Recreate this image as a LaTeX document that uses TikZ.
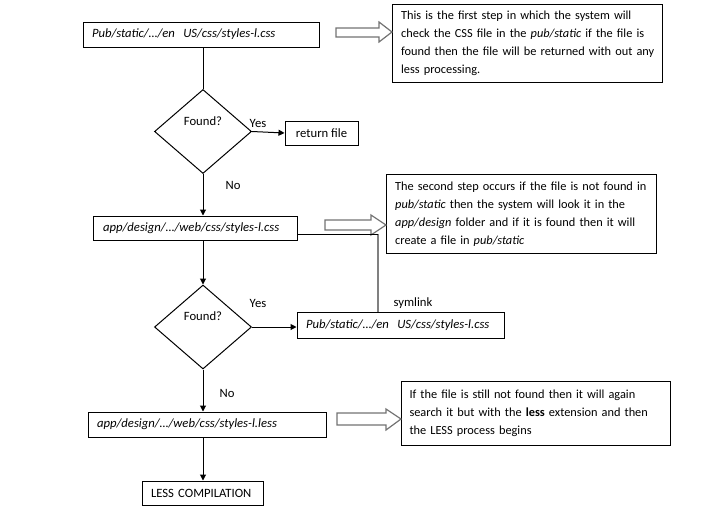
\documentclass[tikz,border=0pt]{standalone}
\usepackage{fontspec}
\setmainfont{Carlito}
\usetikzlibrary{shapes.geometric,arrows.meta}
\begin{document}
\begin{tikzpicture}[x=0.75pt,y=-0.75pt,
  font=\fontsize{9.5}{13.4}\selectfont,
  line width=0.75pt,
  filebox/.style={draw, rectangle, inner xsep=6.75pt, inner ysep=0pt, align=left},
  notebox/.style={draw, rectangle, inner xsep=6.5pt, inner ysep=0pt, align=left, anchor=north west, font=\fontsize{9.25}{13.4}\selectfont},
  decision/.style={draw, diamond, inner sep=0pt, minimum width=72.75pt, minimum height=63pt},
  flow/.style={-{Triangle[length=4.5pt,width=4.5pt]}},
  blockarrow/.style={draw=black!55, line width=0.9pt, fill=white},
  lbl/.style={inner sep=0pt}]
\useasboundingbox (0,0) rectangle (710,518);

% file boxes
\node[filebox, text width=163.5pt, minimum height=18.75pt] (b1) at (201,34.5) {\mbox{\itshape Pub/static/…/en~~US/css/styles-l.css}};
\node[decision, label={[lbl,yshift=7.5pt]center:Found?}] (d1) at (203,131.5) {};
\node[draw, rectangle, minimum width=54.75pt, minimum height=18pt, inner sep=0pt] (ret) at (321.5,133) {return file};
\node[filebox, text width=138pt, minimum height=18pt, inner xsep=7.5pt] (b2) at (195,228) {\mbox{\itshape app/design/…/web/css/styles-l.css}};
\node[decision, label={[lbl,yshift=8pt]center:Found?}] (d2) at (203,327) {};
\node[filebox, text width=141.75pt, minimum height=19.5pt] (sym) at (400.5,325) {\mbox{\itshape Pub/static/…/en~~US/css/styles-l.css}};
\node[filebox, text width=165pt, minimum height=18.75pt] (b3) at (207,424.5) {\mbox{\itshape app/design/…/web/css/styles-l.less}};
\node[filebox, text width=77.25pt, minimum height=18pt] (less) at (202.5,493) {\mbox{LESS COMPILATION}};

% notes
\node[notebox, text width=189.5pt, minimum height=58.5pt] (n1) at (392,4) {\mbox{This is the first step in which the system will}\\
\mbox{check the CSS file in the \textit{pub/static} if the file is}\\
\mbox{found then the file will be returned with out any}\\
\mbox{less processing.}};
\node[notebox, text width=189.5pt, minimum height=59.25pt] (n2) at (386,174) {\mbox{The second step occurs if the file is not found in}\\
\mbox{\textit{pub/static} then the system will look it in the}\\
\mbox{\textit{app/design} folder and if it is found then it will}\\
\mbox{create a file in \textit{pub/static}}};
\node[notebox, text width=189.5pt, minimum height=48pt, inner xsep=6pt] (n3) at (401,381) {\mbox{If the file is still not found then it will again}\\
\mbox{search it but with the \textbf{less} extension and then}\\
\mbox{the LESS process begins}};

% labels
\node[lbl] (yes1) at (258,123.5) {Yes};
\node[lbl] (no1) at (233,185) {No};
\node[lbl] (yes2) at (258,303) {Yes};
\node[lbl] (symlbl) at (413,303) {symlink};
\node[lbl] (no2) at (227,393) {No};

% connectors
\draw (b1.south -| d1) -- (d1.north);
\draw[flow] (d1.east) -- (ret.west);
\draw[flow] (d1.south) -- (d1.south |- b2.north);
\draw[flow] (d1.south |- b2.south) -- (d2.north);
\draw[flow] (d2.east) -- (d2.east -| sym.west);
\draw[flow] (d2.south) -- (d2.south |- b3.north);
\draw[flow] (d2.south |- b3.south) -- (d2.south |- less.north);

\coordinate (corner) at (378,234);
\draw[black!50, line width=1pt] (corner) -- (corner |- sym.north);

% block arrows
\draw[blockarrow] (336,28) -- (379,28) -- (379,22) -- (n1.west |- 0,32) -- (379,42) -- (379,37) -- (336,37) -- cycle;
\draw[blockarrow] (325,220) -- (371,220) -- (371,215) -- (n2.west |- 0,225) -- (371,235) -- (371,230) -- (325,230) -- cycle;
\draw (corner -| b2.east) -- (corner);
\draw[blockarrow] (337,413) -- (386,413) -- (386,409) -- (n3.west |- 0,419) -- (386,430) -- (386,425) -- (337,425) -- cycle;
\end{tikzpicture}
\end{document}
